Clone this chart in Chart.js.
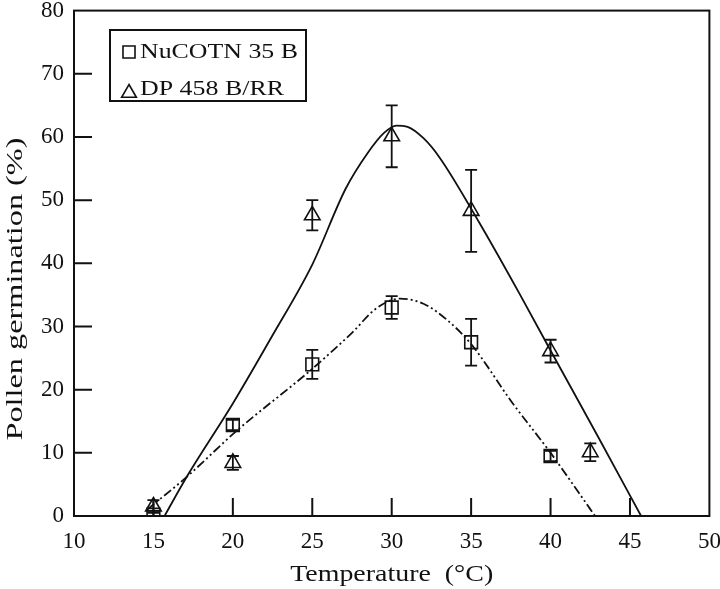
<!DOCTYPE html>
<html>
<head>
<meta charset="utf-8">
<script src="https://cdn.jsdelivr.net/npm/chart.js@4.4.1/dist/chart.umd.min.js"></script>
<style>
  html, body { margin: 0; padding: 0; background: #fff; }
  #wrap { width: 720px; height: 589px; }
</style>
</head>
<body>
<div id="wrap"><canvas id="pollen-chart" width="720" height="589"></canvas></div>
<script>
// temperatures (°C) and means / error half-widths
const nucotnTemp = [15, 20, 25, 30, 35, 40];
const nucotnMean = [0.2, 14.4, 24.0, 33.0, 27.5, 9.5];
const nucotnErr = [0.6, 0.8, 2.3, 1.8, 3.7, 0.8];

const dpTemp = [15, 20, 25, 30, 35, 40, 42.5];
const dpMean = [1.5, 8.4, 47.6, 60.1, 48.3, 26.1, 10.1];
const dpErr = [1.0, 1.1, 2.4, 4.9, 6.5, 1.8, 1.4];

// fitted curves (traced)
const nucotnFitX = [14.6, 17.1, 20.2, 25, 27.5, 29, 30.5, 32, 33.5, 35, 37.6, 40, 41.8, 42.8];
const nucotnFitY = [1.0, 6.2, 13.4, 23.3, 29.0, 32.8, 34.4, 33.6, 31.0, 27.2, 17.9, 10.0, 3.6, 0];
const dpFitX = [15.7, 17.1, 20, 22.5, 25, 27.1, 28.5, 29.5, 30.3, 31, 32, 33, 35.5, 38, 40, 43, 45.7];
const dpFitY = [0, 6.2, 17.8, 28.6, 39.8, 51.8, 57.5, 60.6, 61.8, 61.6, 59.8, 56.8, 46.5, 35.4, 26.2, 12.5, 0];

const seriesLabels = ['NuCOTN 35 B', 'DP 458 B/RR'];
const xTitle = 'Temperature  (°C)';
const yTitle = 'Pollen germination (%)';
const xTicks = [10, 15, 20, 25, 30, 35, 40, 45, 50];
const yTicks = [0, 10, 20, 30, 40, 50, 60, 70, 80];

const SERIF = '"Liberation Serif", "Times New Roman", serif';
const INK = '#111';

const toPts = (xs, ys) => xs.map((x, i) => ({ x, y: ys[i] }));

function drawMarker(ctx, style, x, y, r) {
  ctx.beginPath();
  if (style === 'rect') {
    const s = r * Math.SQRT1_2;
    ctx.rect(x - s, y - s, 2 * s, 2 * s);
  } else {
    ctx.moveTo(x, y - r);
    ctx.lineTo(x + r * 0.866, y + r / 2);
    ctx.lineTo(x - r * 0.866, y + r / 2);
    ctx.closePath();
  }
  ctx.stroke();
}

// the figure's lettering is wide, so stretch it along the reading direction
function wideText(ctx, text, x, y, size, width, align, rot) {
  ctx.save();
  ctx.font = size + 'px ' + SERIF;
  ctx.textBaseline = 'middle';
  ctx.textAlign = 'left';
  const sx = width / ctx.measureText(text).width;
  ctx.translate(x, y);
  if (rot) ctx.rotate(rot);
  ctx.scale(sx, 1);
  const w = ctx.measureText(text).width;
  ctx.fillText(text, align === 'center' ? -w / 2 : 0, 0);
  ctx.restore();
}

const decorPlugin = {
  id: 'decor',
  afterDatasetsDraw(chart) {
    const { ctx, scales: { x, y } } = chart;
    ctx.save();
    ctx.strokeStyle = INK;
    ctx.lineWidth = 1.8;
    const bars = [[nucotnTemp, nucotnMean, nucotnErr], [dpTemp, dpMean, dpErr]];
    bars.forEach(([tx, m, e]) => {
      tx.forEach((t, i) => {
        const px = x.getPixelForValue(t);
        const top = y.getPixelForValue(m[i] + e[i]);
        const bot = y.getPixelForValue(Math.max(0, m[i] - e[i]));
        ctx.beginPath();
        ctx.moveTo(px, top); ctx.lineTo(px, bot);
        ctx.moveTo(px - 6, top); ctx.lineTo(px + 6, top);
        ctx.moveTo(px - 6, bot); ctx.lineTo(px + 6, bot);
        ctx.stroke();
      });
    });
    ctx.restore();
  },
  afterDraw(chart) {
    const { ctx, chartArea: a, scales: { x, y } } = chart;
    ctx.save();
    ctx.strokeStyle = INK;
    ctx.lineWidth = 2;
    ctx.strokeRect(a.left, a.top, a.right - a.left, a.bottom - a.top);
    // inward ticks
    ctx.beginPath();
    xTicks.slice(1, -1).forEach(v => {
      const px = x.getPixelForValue(v);
      ctx.moveTo(px, a.bottom); ctx.lineTo(px, a.bottom - 18);
    });
    yTicks.slice(1, -1).forEach(v => {
      const py = y.getPixelForValue(v);
      ctx.moveTo(a.left, py); ctx.lineTo(a.left + 18, py);
    });
    ctx.stroke();

    // legend box
    ctx.lineWidth = 2;
    ctx.strokeRect(110, 30, 196, 71);
    ctx.lineWidth = 1.6;
    drawMarker(ctx, 'rect', 129, 52, 8.5);
    drawMarker(ctx, 'triangle', 129, 93, 8.5);
    ctx.fillStyle = INK;
    wideText(ctx, seriesLabels[0], 140, 52, 22, 158, 'left');
    wideText(ctx, seriesLabels[1], 140, 89, 22, 144, 'left');

    // axis titles
    wideText(ctx, xTitle, (a.left + a.right) / 2, 575, 23, 203, 'center');
    wideText(ctx, yTitle, 16, 289, 23, 303, 'center', -Math.PI / 2);
    ctx.restore();
  }
};

const pointCommon = {
  showLine: false,
  borderColor: INK,
  backgroundColor: 'rgba(0,0,0,0)',
  borderWidth: 1.6,
  pointRadius: 9,
  pointHoverRadius: 9
};
const curveCommon = {
  showLine: true,
  borderColor: INK,
  borderWidth: 1.8,
  pointRadius: 0,
  fill: false,
  cubicInterpolationMode: 'monotone'
};

new Chart(document.getElementById('pollen-chart'), {
  type: 'scatter',
  data: {
    datasets: [
      { ...pointCommon, label: seriesLabels[0], data: toPts(nucotnTemp, nucotnMean), pointStyle: 'rect' },
      { ...pointCommon, label: seriesLabels[1], data: toPts(dpTemp, dpMean), pointStyle: 'triangle' },
      { ...curveCommon, label: 'NuCOTN fit', data: toPts(nucotnFitX, nucotnFitY), borderDash: [9, 3, 2, 3, 2, 3] },
      { ...curveCommon, label: 'DP fit', data: toPts(dpFitX, dpFitY) }
    ]
  },
  options: {
    responsive: false,
    animation: false,
    layout: { padding: { top: 10, right: 10, left: 0, bottom: 0 } },
    plugins: { legend: { display: false }, tooltip: { enabled: false } },
    scales: {
      x: {
        type: 'linear', min: 10, max: 50,
        afterBuildTicks: s => { s.ticks = xTicks.map(v => ({ value: v })); },
        afterFit: s => { s.height = 73; s.paddingLeft = 0; s.paddingRight = 0; },
        grid: { display: false, drawTicks: false },
        border: { display: false },
        ticks: { color: INK, padding: 12, maxRotation: 0, font: { family: SERIF, size: 23 } }
      },
      y: {
        type: 'linear', min: 0, max: 80,
        afterBuildTicks: s => { s.ticks = yTicks.map(v => ({ value: v })); },
        afterFit: s => { s.width = 74; s.paddingTop = 0; s.paddingBottom = 0; },
        grid: { display: false, drawTicks: false },
        border: { display: false },
        ticks: { color: INK, padding: 10, font: { family: SERIF, size: 23 } }
      }
    }
  },
  plugins: [decorPlugin]
});
</script>
</body>
</html>
